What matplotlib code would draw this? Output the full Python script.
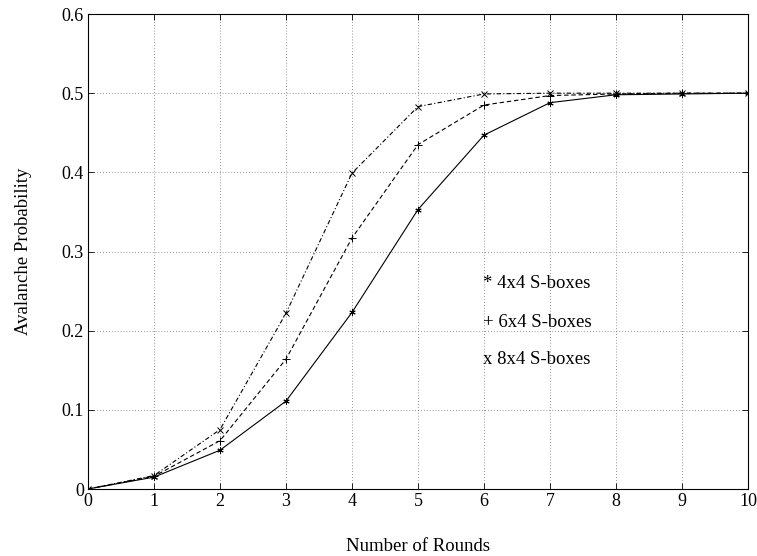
import matplotlib
matplotlib.use('Agg')
import matplotlib.pyplot as plt

rounds = [0, 1, 2, 3, 4, 5, 6, 7, 8, 9, 10]
sbox_4x4 = [0.0, 0.015, 0.049, 0.111, 0.223, 0.353, 0.447, 0.488, 0.498, 0.499, 0.5]
sbox_6x4 = [0.0, 0.016, 0.061, 0.164, 0.317, 0.435, 0.485, 0.497, 0.499, 0.5, 0.5]
sbox_8x4 = [0.0, 0.017, 0.075, 0.222, 0.399, 0.483, 0.499, 0.5, 0.5, 0.5, 0.5]
labels = ['* 4x4 S-boxes', '+ 6x4 S-boxes', 'x 8x4 S-boxes']

plt.rcParams['font.family'] = ['Liberation Serif', 'DejaVu Serif']

fig = plt.figure(figsize=(7.57, 5.56), dpi=100)
ax = fig.add_axes([0.1162, 0.1205, 0.8719, 0.8543])

lw = 0.8
# asterisco estilo MATLAB (6 raios)
ax.plot(rounds, sbox_4x4, color='black', linestyle='-', marker=(6, 2, 0), markersize=4.5,
        markeredgewidth=0.7, linewidth=lw)
ax.plot(rounds, sbox_6x4, color='black', linestyle='--', dashes=(4, 2.5), marker='+', markersize=6,
        markeredgewidth=0.7, linewidth=lw)
ax.plot(rounds, sbox_8x4, color='black', linestyle='-.', dashes=(4, 2, 1, 2), marker='x', markersize=4.5,
        markeredgewidth=0.7, linewidth=lw)

# legenda escrita como texto dentro do gráfico
for y, text in zip([0.26, 0.21, 0.163], labels):
    ax.text(5.98, y, text, fontsize=13.5, va='center', ha='left')

ax.set_xlim(0, 10)
ax.set_ylim(0, 0.6)
ax.set_xticks(range(0, 11))
ax.set_yticks([0, 0.1, 0.2, 0.3, 0.4, 0.5, 0.6])
ax.set_yticklabels(['0', '0.1', '0.2', '0.3', '0.4', '0.5', '0.6'])
ax.grid(True, linestyle=(0, (1, 2.5)), color='0.45', linewidth=0.6)
ax.tick_params(direction='in', top=True, right=True, length=4, width=0.6, labelsize=13, pad=3)
for spine in ax.spines.values():
    spine.set_linewidth(0.8)

ax.set_xlabel('Number of Rounds', fontsize=13.5, labelpad=20)
ax.set_ylabel('Avalanche Probability', fontsize=13.5, labelpad=21)

fig.savefig('out.png', dpi=100)
